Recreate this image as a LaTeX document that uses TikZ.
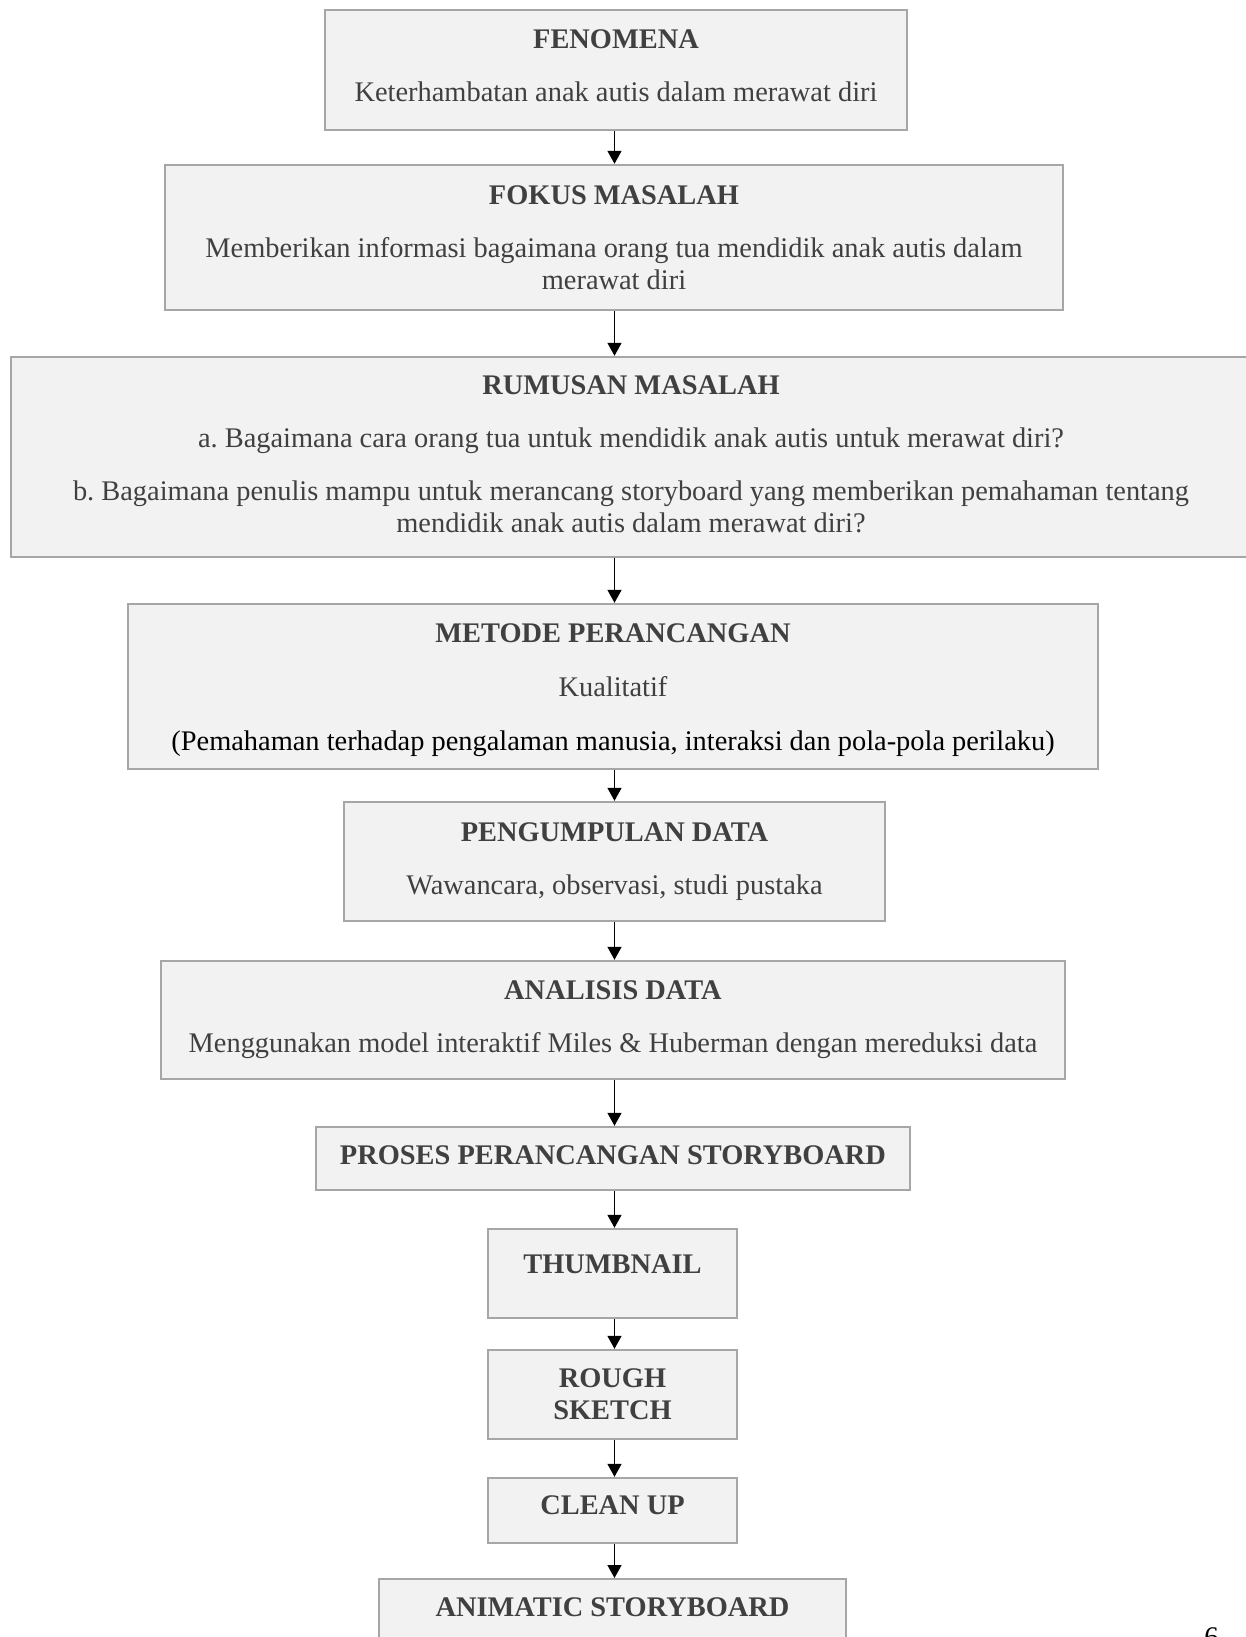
\documentclass[tikz,border=0pt]{standalone}
\usepackage{fontspec}
\setmainfont{Liberation Serif}
\usepackage{xcolor}
\usetikzlibrary{arrows.meta}
\definecolor{boxFill}{HTML}{F2F2F2}
\definecolor{boxLine}{HTML}{A6A6A6}
\definecolor{textGray}{HTML}{404040}
\frenchspacing

\begin{document}
\begin{tikzpicture}[x=0.5pt, y=-0.5pt,
        every node/.style={font=\fontsize{14.2}{16}\selectfont}]
        \tikzstyle{boxStyle} = [rectangle, draw=boxLine, fill=boxFill,
            line width=1.2pt, align=center, text=textGray, inner sep=0pt]
        \tikzstyle{arrowStyle} = [draw=black, line width=0.75pt,
            -{Triangle[length=6.5pt, width=7pt]}]
        \useasboundingbox (0,0) rectangle (1246,1637);
        \clip (0,0) rectangle (1246,1637);
        \coordinate (axis) at (614.5,0);
        \node[boxStyle, minimum width=291pt, minimum height=60pt, text depth=4pt] (fenomena) at (616,70)
            {\textbf{FENOMENA}\\[10.5pt] Keterhambatan anak autis dalam merawat diri};
        \node[boxStyle, minimum width=449pt, minimum height=72.5pt] (fokus) at (614,237.5)
            {\textbf{FOKUS MASALAH}\\[10.5pt] Memberikan informasi bagaimana orang tua mendidik anak autis dalam\\ merawat diri};
        \node[boxStyle, minimum width=620pt, minimum height=100pt, text depth=2.5pt] (rumusan) at (631,457)
            {\textbf{RUMUSAN MASALAH}\\[10.5pt]
             a. Bagaimana cara orang tua untuk mendidik anak autis untuk merawat diri?\\[10.5pt]
             b. Bagaimana penulis mampu untuk merancang storyboard yang memberikan pemahaman tentang\\
             mendidik anak autis dalam merawat diri?};
        \node[boxStyle, minimum width=485pt, minimum height=82.5pt] (metode) at (613,686.5)
            {\rule{0pt}{13pt}\textbf{METODE PERANCANGAN}\\[10.8pt] Kualitatif\\[10.8pt]
             {\color{black}(Pemahaman terhadap pengalaman manusia, interaksi dan pola-pola perilaku)}};
        \node[boxStyle, minimum width=270.5pt, minimum height=59.5pt] (pengumpulan) at (614.5,861.5)
            {\textbf{PENGUMPULAN DATA}\\[10.5pt] Wawancara, observasi, studi pustaka};
        \node[boxStyle, minimum width=452pt, minimum height=59pt] (analisis) at (613,1020)
            {\textbf{ANALISIS DATA}\\[10.5pt] Menggunakan model interaktif Miles \& Huberman dengan mereduksi data};
        \node[boxStyle, minimum width=297pt, minimum height=31.5pt, text depth=3pt] (proses) at (613,1158.5)
            {\textbf{PROSES PERANCANGAN STORYBOARD}};
        \node[boxStyle, minimum width=124.5pt, minimum height=44.5pt, text depth=9.5pt] (thumbnail) at (612.5,1273.5)
            {\textbf{THUMBNAIL}};
        \node[boxStyle, minimum width=124.5pt, minimum height=44.5pt] (rough) at (612.5,1394.5)
            {\textbf{ROUGH}\\\textbf{SKETCH}};
        \node[boxStyle, minimum width=124.5pt, minimum height=32.5pt, text depth=5pt] (cleanup) at (612.5,1510.5)
            {\textbf{CLEAN UP}};
        \node[boxStyle, minimum width=233.5pt, anchor=north, inner ysep=9pt, text depth=40pt] (animatic) at (612.5,1578)
            {\textbf{ANIMATIC STORYBOARD}};
        \node[text=black, anchor=north west, inner sep=0pt] (pageNum) at (1204,1627) {6};
        \foreach \from/\to in {fenomena/fokus, fokus/rumusan, rumusan/metode,
                                metode/pengumpulan, pengumpulan/analisis,
                                analisis/proses, proses/thumbnail, thumbnail/rough,
                                rough/cleanup, cleanup/animatic}
            \path[arrowStyle] (axis |- \from.south) -- (axis |- \to.north);
    \end{tikzpicture}
\end{document}
